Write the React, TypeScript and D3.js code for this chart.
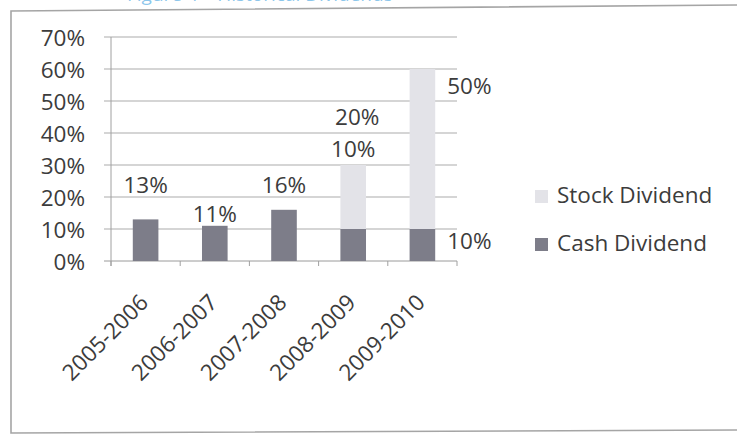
import React from "react";
import * as d3 from "d3";

const categories = ["2005-2006", "2006-2007", "2007-2008", "2008-2009", "2009-2010"];
const cashDividend = [0.13, 0.11, 0.16, 0.10, 0.10];
const stockDividend = [0, 0, 0, 0.20, 0.50];
const yTicks = [0, 0.1, 0.2, 0.3, 0.4, 0.5, 0.6, 0.7];
const seriesNames = ["Stock Dividend", "Cash Dividend"];
const titleText = "Figure 4 \u2013 Historical Dividends";

// label placement tweaks (pixels), layout only
const cashLabelDx = [0, 0, 0, 0, 47];
const cashLabelDy = [-34, -12, -25, -16, 12];
const stockLabelDx = [0, 0, 0, 4, 47];
const stockLabelDy = [0, 0, 0, -48, 17];

const W = 737;
const H = 437;
const FONT = "'Open Sans', 'DejaVu Sans', sans-serif";
const TEXT = "#3c3c3c";
const CASH = "#7d7d89";
const STOCK = "#e3e3e8";
const GRID = "#ababab";

export default function App() {
  const x = d3.scaleBand<string>().domain(categories).range([111, 457]).paddingInner(0.63).paddingOuter(0.315);
  const y = d3.scaleLinear().domain([0, 0.7]).range([261, 37]);
  const step = x.step();
  const x0 = 111;

  const rows = categories.map((c, i) => ({ cat: c, cash: cashDividend[i], stock: stockDividend[i] }));
  const stacked = d3.stack<any>().keys(["cash", "stock"])(rows);
  const fmt = d3.format(".0%");

  return (
    <svg width={W} height={H} style={{ position: "absolute", left: 0, top: 0, background: "#fff" }} fontFamily={FONT}>
      <rect x={0} y={0} width={W} height={H} fill="#fff" />
      <text x={127} y={1} fontSize={19} fill="#5aaee3" fillOpacity={0.7}>{titleText}</text>
      <path d="M11,11 L740,5 L740,430 L11,433 Z" fill="none" stroke="#a5a5a5" strokeWidth={1.6} />

      {/* gridlines */}
      {yTicks.map((t) => (
        <line key={"g" + t} x1={104} x2={457} y1={y(t)} y2={y(t)} stroke={t === 0 ? "#9a9a9a" : GRID} strokeWidth={1} />
      ))}
      {/* y axis */}
      <line x1={x0} x2={x0} y1={y(0.7)} y2={y(0) + 5} stroke="#a0a0a0" strokeWidth={1} />
      {/* x ticks */}
      {d3.range(categories.length + 1).map((i) => (
        <line key={"xt" + i} x1={x0 + i * step} x2={x0 + i * step} y1={y(0)} y2={y(0) + 5} stroke="#a0a0a0" />
      ))}
      {/* y labels */}
      {yTicks.map((t) => (
        <text key={"yl" + t} x={85} y={y(t) + 9} textAnchor="end" fontSize={22.5} fill={TEXT}>{fmt(t)}</text>
      ))}

      {/* bars */}
      {stacked.map((s) => (
        <g key={s.key} fill={s.key === "cash" ? CASH : STOCK}>
          {s.map((d, i) => (
            d[1] - d[0] > 0 ? (
              <rect key={i} x={x(categories[i])} width={x.bandwidth()} y={y(d[1])} height={y(d[0]) - y(d[1])} />
            ) : null
          ))}
        </g>
      ))}

      {/* data labels */}
      {categories.map((c, i) => {
        const cx = (x(c) as number) + x.bandwidth() / 2;
        const top = cashDividend[i] + stockDividend[i];
        const cashAnchor = i === 4 ? y(cashDividend[i]) : y(top);
        const els = [
          <text key={"cl" + i} x={cx + cashLabelDx[i]} y={cashAnchor + cashLabelDy[i] + 8} textAnchor="middle" fontSize={22.5} fill={TEXT}>{fmt(cashDividend[i])}</text>,
        ];
        if (stockDividend[i] > 0) {
          els.push(
            <text key={"sl" + i} x={cx + stockLabelDx[i]} y={y(top) + stockLabelDy[i] + 8} textAnchor="middle" fontSize={22.5} fill={TEXT}>{fmt(stockDividend[i])}</text>
          );
        }
        return <g key={"lab" + i}>{els}</g>;
      })}

      {/* x labels */}
      {categories.map((c) => {
        const ex = (x(c) as number) + x.bandwidth() / 2 + 4;
        const ey = y(0) + 43;
        return (
          <text key={"xl" + c} transform={`translate(${ex},${ey}) rotate(-45)`} textAnchor="end" fontSize={22.5} fill={TEXT}>{c}</text>
        );
      })}

      {/* legend */}
      {seriesNames.map((n, i) => (
        <g key={n} transform={`translate(535,${190 + i * 48})`}>
          <rect x={0} y={0} width={13} height={13} fill={i === 0 ? STOCK : CASH} />
          <text x={22} y={13} fontSize={22.5} fill={TEXT}>{n}</text>
        </g>
      ))}
    </svg>
  );
}
